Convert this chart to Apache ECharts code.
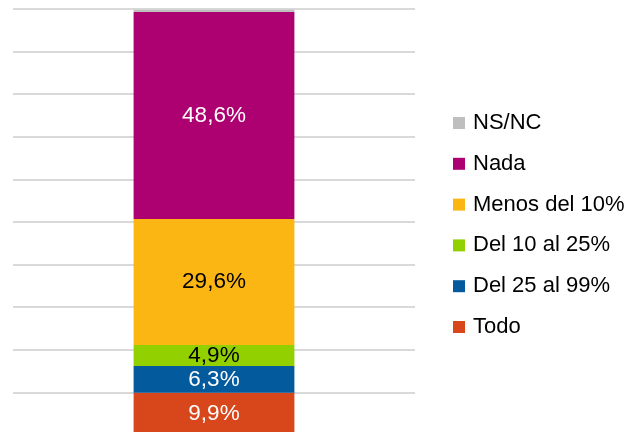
<!DOCTYPE html>
<html>
<head>
<meta charset="utf-8">
<script src="https://cdn.jsdelivr.net/npm/echarts@6/dist/echarts.min.js"></script>
<style>
  html, body { margin: 0; padding: 0; background: #fff; overflow: hidden; }
  #chart { width: 626px; height: 440px; }
</style>
</head>
<body>
<div id="chart"></div>
<script>
// stacked bottom -> top
const categories = [''];
const seriesNames = ['Todo', 'Del 25 al 99%', 'Del 10 al 25%', 'Menos del 10%', 'Nada', 'NS/NC'];
const seriesValues = [9.9, 6.3, 4.9, 29.6, 48.6, 0.5];
const seriesColors = ['#d8461b', '#035a9d', '#92d000', '#fbb614', '#ad0071', '#bfbfbf'];
const labelColors = ['#fff', '#fff', '#000', '#000', '#fff', null];
const yTicks = { min: 0, max: 100, interval: 10 };

// the div is a bit taller than the 432px window so the axis base falls just off-screen,
// like the cropped original
const chart = echarts.init(document.getElementById('chart'));

function fmt(v) {
  return v.toFixed(1).replace('.', ',') + '%';
}

const series = seriesNames.map((name, i) => ({
  name: name,
  type: 'bar',
  stack: 'total',
  barWidth: '40%',
  itemStyle: { color: seriesColors[i] },
  label: {
    show: labelColors[i] !== null,
    position: 'inside',
    color: labelColors[i] || '#fff',
    fontFamily: 'Liberation Sans, Arial, sans-serif',
    fontSize: 22.5,
    formatter: (p) => fmt(p.value)
  },
  data: [seriesValues[i]]
}));

chart.setOption({
  animation: false,
  grid: { left: 13, right: 211, top: 9, bottom: 5, containLabel: false },
  xAxis: {
    type: 'category',
    data: categories,
    axisLine: { show: false },
    axisTick: { show: false },
    axisLabel: { show: false }
  },
  yAxis: {
    type: 'value',
    min: yTicks.min,
    max: yTicks.max,
    interval: yTicks.interval,
    axisLabel: { show: false },
    axisLine: { show: false },
    axisTick: { show: false },
    splitLine: { lineStyle: { color: '#d9d9d9', width: 2 } }
  },
  legend: {
    orient: 'vertical',
    left: 453,
    top: 111,
    padding: 0,
    icon: 'rect',
    itemWidth: 12,
    itemHeight: 12,
    itemGap: 16.8,
    selectedMode: false,
    data: seriesNames.slice().reverse(),
    textStyle: {
      fontFamily: 'Liberation Sans, Arial, sans-serif',
      fontSize: 22,
      lineHeight: 24,
      color: '#000',
      padding: [0, 0, 0, 3]
    }
  },
  series: series
});
</script>
</body>
</html>
